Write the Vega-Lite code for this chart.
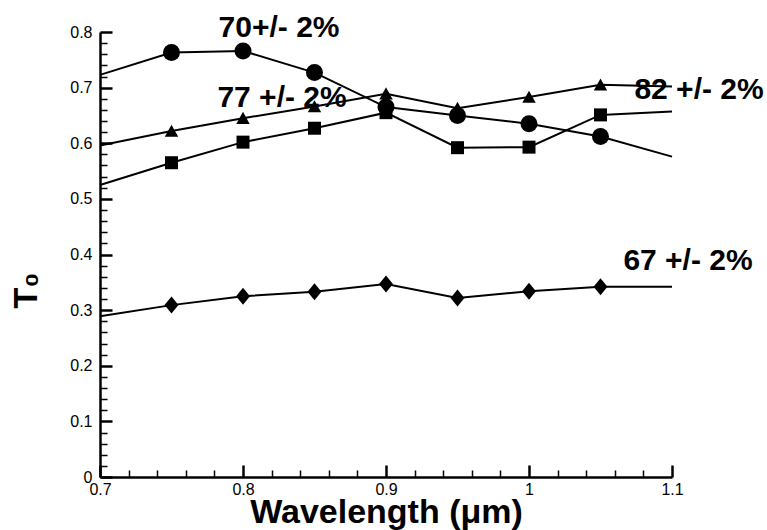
{
  "$schema": "https://vega.github.io/schema/vega-lite/v6.json",
  "autosize": "none",
  "width": 572,
  "height": 445,
  "padding": {"left": 100, "top": 32, "right": 95, "bottom": 53},
  "background": "white",
  "config": {
    "view": {"stroke": null},
    "font": "Liberation Sans",
    "axis": {
      "grid": false,
      "domainColor": "black",
      "domainWidth": 2.5,
      "tickColor": "black",
      "labelColor": "black",
      "titleColor": "black",
      "labelFont": "Liberation Sans",
      "titleFont": "Liberation Sans",
      "labelFontSize": 16,
      "labelOverlap": false,
      "labelFlush": false,
      "titleFontWeight": "bold",
      "titleFontSize": 34
    }
  },
  "resolve": {"axis": {"x": "independent", "y": "independent"}},
  "datasets": {
    "curves": [
      {"series": "circle", "x": 0.70, "y": 0.723, "m": false},
      {"series": "circle", "x": 0.75, "y": 0.763, "m": true},
      {"series": "circle", "x": 0.80, "y": 0.766, "m": true},
      {"series": "circle", "x": 0.85, "y": 0.727, "m": true},
      {"series": "circle", "x": 0.90, "y": 0.665, "m": true},
      {"series": "circle", "x": 0.95, "y": 0.650, "m": true},
      {"series": "circle", "x": 1.00, "y": 0.635, "m": true},
      {"series": "circle", "x": 1.05, "y": 0.612, "m": true},
      {"series": "circle", "x": 1.10, "y": 0.576, "m": false},
      {"series": "triangle", "x": 0.70, "y": 0.596, "m": false},
      {"series": "triangle", "x": 0.75, "y": 0.622, "m": true},
      {"series": "triangle", "x": 0.80, "y": 0.645, "m": true},
      {"series": "triangle", "x": 0.85, "y": 0.666, "m": true},
      {"series": "triangle", "x": 0.90, "y": 0.689, "m": true},
      {"series": "triangle", "x": 0.95, "y": 0.663, "m": true},
      {"series": "triangle", "x": 1.00, "y": 0.683, "m": true},
      {"series": "triangle", "x": 1.05, "y": 0.705, "m": true},
      {"series": "triangle", "x": 1.10, "y": 0.702, "m": false},
      {"series": "square", "x": 0.70, "y": 0.525, "m": false},
      {"series": "square", "x": 0.75, "y": 0.565, "m": true},
      {"series": "square", "x": 0.80, "y": 0.602, "m": true},
      {"series": "square", "x": 0.85, "y": 0.627, "m": true},
      {"series": "square", "x": 0.90, "y": 0.655, "m": true},
      {"series": "square", "x": 0.95, "y": 0.592, "m": true},
      {"series": "square", "x": 1.00, "y": 0.593, "m": true},
      {"series": "square", "x": 1.05, "y": 0.651, "m": true},
      {"series": "square", "x": 1.10, "y": 0.657, "m": false},
      {"series": "diamond", "x": 0.70, "y": 0.289, "m": false},
      {"series": "diamond", "x": 0.75, "y": 0.309, "m": true},
      {"series": "diamond", "x": 0.80, "y": 0.325, "m": true},
      {"series": "diamond", "x": 0.85, "y": 0.333, "m": true},
      {"series": "diamond", "x": 0.90, "y": 0.347, "m": true},
      {"series": "diamond", "x": 0.95, "y": 0.322, "m": true},
      {"series": "diamond", "x": 1.00, "y": 0.334, "m": true},
      {"series": "diamond", "x": 1.05, "y": 0.342, "m": true},
      {"series": "diamond", "x": 1.10, "y": 0.342, "m": false}
    ],
    "notes": [
      {"x": 0.8252, "y": 0.791, "label": "70+/- 2%"},
      {"x": 0.8273, "y": 0.665, "label": "77 +/- 2%"},
      {"x": 1.1189, "y": 0.679, "label": "82 +/- 2%"},
      {"x": 1.1112, "y": 0.372, "label": "67 +/- 2%"}
    ]
  },
  "layer": [
    {
      "data": {"name": "curves"},
      "mark": {"type": "line", "color": "black", "strokeWidth": 2, "clip": false},
      "encoding": {
        "x": {
          "field": "x", "type": "quantitative",
          "scale": {"domain": [0.7, 1.1], "nice": false, "zero": false},
          "axis": {
            "orient": "bottom",
            "title": "Wavelength (μm)",
            "titleY": 45,
            "titleBaseline": "alphabetic",
            "values": [0.7, 0.8, 0.9, 1.0, 1.1],
            "labelExpr": "format(datum.value, '.1~f')",
            "labelFontSize": 16,
            "tickSize": -12,
            "tickWidth": 2.5,
            "labelPadding": 16
          }
        },
        "y": {
          "field": "y", "type": "quantitative",
          "scale": {"domain": [0, 0.8], "nice": false, "zero": false},
          "axis": {
            "orient": "left",
            "title": "T₀",
            "titleX": -74,
            "titleY": 258,
            "titleAngle": -90,
            "titleAlign": "center",
            "titleBaseline": "middle",
            "values": [0, 0.1, 0.2, 0.3, 0.4, 0.5, 0.6, 0.7, 0.8],
            "labelExpr": "format(datum.value, '.1~f')",
            "labelFontSize": 16,
            "tickSize": -12,
            "tickWidth": 2.5,
            "labelPadding": 20
          }
        },
        "detail": {"field": "series"}
      }
    },
    {
      "data": {"name": "curves"},
      "transform": [{"filter": "datum.m && datum.series == 'circle'"}],
      "mark": {"type": "point", "shape": "circle", "size": 289, "filled": true, "color": "black", "opacity": 1, "strokeWidth": 0, "clip": false},
      "encoding": {
        "x": {
          "field": "x", "type": "quantitative",
          "axis": {
            "orient": "bottom", "title": null, "labels": false, "domain": false,
            "values": [0.72,0.74,0.76,0.78,0.82,0.84,0.86,0.88,0.92,0.94,0.96,0.98,1.02,1.04,1.06,1.08],
            "tickSize": -7, "tickWidth": 1.5
          }
        },
        "y": {
          "field": "y", "type": "quantitative",
          "axis": {
            "orient": "left", "title": null, "labels": false, "domain": false,
            "values": [0.02,0.04,0.06,0.08,0.12,0.14,0.16,0.18,0.22,0.24,0.26,0.28,0.32,0.34,0.36,0.38,0.42,0.44,0.46,0.48,0.52,0.54,0.56,0.58,0.62,0.64,0.66,0.68,0.72,0.74,0.76,0.78],
            "tickSize": -7, "tickWidth": 1.5
          }
        }
      }
    },
    {
      "data": {"name": "curves"},
      "transform": [{"filter": "datum.m && datum.series == 'triangle'"}],
      "mark": {"type": "point", "shape": "M-1,0.85L0,-0.95L1,0.85Z", "size": 180, "filled": true, "color": "black", "opacity": 1, "strokeWidth": 0, "clip": false},
      "encoding": {
        "x": {"field": "x", "type": "quantitative", "axis": null},
        "y": {"field": "y", "type": "quantitative", "axis": null}
      }
    },
    {
      "data": {"name": "curves"},
      "transform": [{"filter": "datum.m && datum.series == 'square'"}],
      "mark": {"type": "point", "shape": "square", "size": 169, "filled": true, "color": "black", "opacity": 1, "strokeWidth": 0, "clip": false},
      "encoding": {
        "x": {"field": "x", "type": "quantitative", "axis": null},
        "y": {"field": "y", "type": "quantitative", "axis": null}
      }
    },
    {
      "data": {"name": "curves"},
      "transform": [{"filter": "datum.m && datum.series == 'diamond'"}],
      "mark": {"type": "point", "shape": "M-0.82,0L0,-1L0.82,0L0,1Z", "size": 289, "filled": true, "color": "black", "opacity": 1, "strokeWidth": 0, "clip": false},
      "encoding": {
        "x": {"field": "x", "type": "quantitative", "axis": null},
        "y": {"field": "y", "type": "quantitative", "axis": null}
      }
    },
    {
      "data": {"name": "notes"},
      "mark": {"type": "text", "font": "Liberation Sans", "fontWeight": "bold", "fontSize": 30, "color": "black", "align": "center", "baseline": "alphabetic", "clip": false},
      "encoding": {
        "x": {"field": "x", "type": "quantitative", "axis": null},
        "y": {"field": "y", "type": "quantitative", "axis": null},
        "text": {"field": "label"}
      }
    }
  ]
}
